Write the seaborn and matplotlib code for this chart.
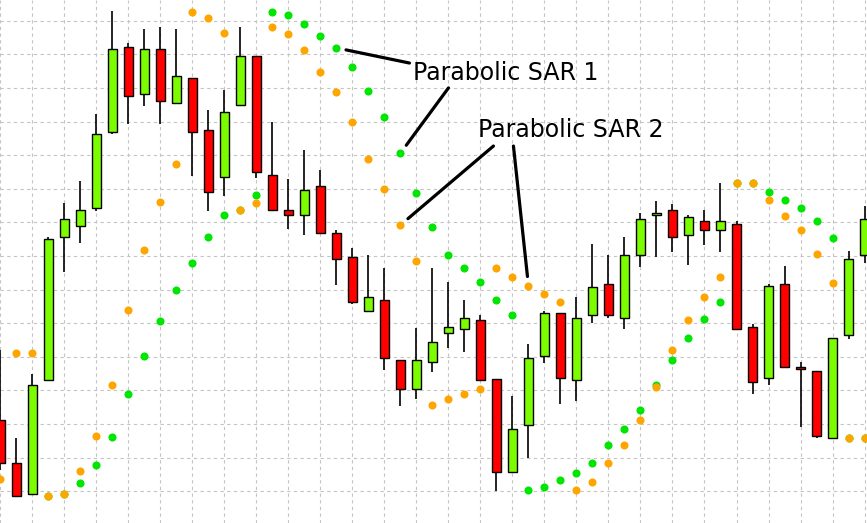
import numpy as np
import pandas as pd
import matplotlib
matplotlib.use('Agg')
import matplotlib.pyplot as plt
import seaborn as sns

nan = np.nan

# candle prices (one candle per bar)
open_ = [1.30212, 1.30084, 1.29991, 1.30331, 1.30756, 1.30789, 1.30843, 1.31069, 1.31322, 1.31182,
         1.31316, 1.31155, 1.31230, 1.31075, 1.30935, 1.31149, 1.31295, 1.30941, 1.30837, 1.30822,
         1.30908, 1.30768, 1.30697, 1.30536, 1.30569, 1.30390, 1.30304, 1.30384, 1.30471, 1.30482,
         1.30509, 1.30334, 1.30057, 1.30197, 1.30402, 1.30530, 1.30331, 1.30524, 1.30616, 1.30515,
         1.30703, 1.30822, 1.30837, 1.30762, 1.30804, 1.30777, 1.30795, 1.30488, 1.30337, 1.30616,
         1.30369, 1.30357, 1.30158, 1.30465, 1.30703]
high = [1.30420, 1.30158, 1.30349, 1.30756, 1.30857, 1.30923, 1.31122, 1.31429, 1.31334, 1.31375,
        1.31381, 1.31375, 1.31230, 1.31134, 1.31194, 1.31381, 1.31295, 1.31099, 1.30929, 1.31015,
        1.30956, 1.30777, 1.30724, 1.30703, 1.30664, 1.30390, 1.30485, 1.30664, 1.30622, 1.30569,
        1.30524, 1.30334, 1.30283, 1.30438, 1.30536, 1.30530, 1.30578, 1.30735, 1.30703, 1.30756,
        1.30828, 1.30863, 1.30854, 1.30822, 1.30837, 1.30917, 1.30804, 1.30497, 1.30616, 1.30670,
        1.30384, 1.30357, 1.30456, 1.30715, 1.30849]
low = [1.30063, 1.29982, 1.29991, 1.30328, 1.30652, 1.30738, 1.30834, 1.31063, 1.31093, 1.31146,
       1.31093, 1.31155, 1.30938, 1.30834, 1.30878, 1.31149, 1.30932, 1.30837, 1.30780, 1.30762,
       1.30768, 1.30613, 1.30557, 1.30536, 1.30360, 1.30253, 1.30274, 1.30354, 1.30426, 1.30414,
       1.30331, 1.30000, 1.30057, 1.30099, 1.30381, 1.30259, 1.30268, 1.30500, 1.30515, 1.30482,
       1.30667, 1.30697, 1.30712, 1.30673, 1.30732, 1.30712, 1.30482, 1.30289, 1.30316, 1.30369,
       1.30191, 1.30158, 1.30158, 1.30453, 1.30679]
close = [1.30084, 1.29985, 1.30316, 1.30750, 1.30810, 1.30837, 1.31063, 1.31316, 1.31176, 1.31316,
         1.31161, 1.31235, 1.31069, 1.30890, 1.31128, 1.31295, 1.30950, 1.30837, 1.30822, 1.30896,
         1.30768, 1.30691, 1.30563, 1.30578, 1.30396, 1.30304, 1.30390, 1.30444, 1.30488, 1.30515,
         1.30331, 1.30057, 1.30185, 1.30396, 1.30530, 1.30337, 1.30515, 1.30607, 1.30524, 1.30703,
         1.30810, 1.30828, 1.30756, 1.30816, 1.30777, 1.30804, 1.30482, 1.30325, 1.30610, 1.30369,
         1.30363, 1.30164, 1.30456, 1.30691, 1.30810]

# Parabolic SAR 1 (green) and SAR 2 (orange)
sar1 = [nan, nan, nan, 1.29985, 1.29991, 1.30024, 1.30078, 1.30161, 1.30289, 1.30402,
        1.30506, 1.30599, 1.30679, 1.30756, 1.30822, 1.30837, 1.30881, 1.31426, 1.31417, 1.31390,
        1.31354, 1.31319, 1.31262, 1.31191, 1.31113, 1.31006, 1.30887, 1.30786, 1.30703, 1.30664,
        1.30622, 1.30569, 1.30524, 1.30003, 1.30012, 1.30033, 1.30054, 1.30084, 1.30137, 1.30185,
        1.30241, 1.30316, 1.30390, 1.30456, 1.30512, 1.30563, 1.30917, 1.30917, 1.30890, 1.30866,
        1.30843, 1.30804, 1.30753, 1.30158, 1.30158]
sar2 = [1.30036, 1.30411, 1.30411, 1.29985, 1.29991, 1.30060, 1.30164, 1.30316, 1.30539, 1.30718,
        1.30860, 1.30974, 1.31426, 1.31408, 1.31363, 1.30837, 1.30857, 1.31381, 1.31360, 1.31313,
        1.31247, 1.31188, 1.31099, 1.30988, 1.30899, 1.30792, 1.30685, 1.30256, 1.30274, 1.30289,
        1.30304, 1.30664, 1.30637, 1.30610, 1.30587, 1.30563, 1.30003, 1.30027, 1.30084, 1.30137,
        1.30212, 1.30310, 1.30420, 1.30509, 1.30578, 1.30637, 1.30917, 1.30917, 1.30866, 1.30819,
        1.30777, 1.30706, 1.30619, 1.30158, 1.30158]

df = pd.DataFrame({'open': open_, 'high': high, 'low': low, 'close': close,
                   'sar1': sar1, 'sar2': sar2})
df['bar'] = np.arange(len(df))
df['up'] = df['close'] >= df['open']

sns.set_style('white')
plt.rcParams['font.family'] = ['DejaVu Sans']

fig = plt.figure(figsize=(8.67, 5.23), dpi=100)
ax = fig.add_axes([0, 0, 1, 1])

# dashed grid, one vertical line every second bar
ax.set_xticks(np.arange(0, 56, 2))
ax.set_yticks(np.round(1.300 + np.arange(15) * 0.001, 4))
ax.grid(True, color='#c4c4c4', linestyle=(0, (3, 3)), linewidth=0.8)
ax.set_axisbelow(True)
ax.tick_params(left=False, bottom=False, labelleft=False, labelbottom=False)
for s in ax.spines.values():
    s.set_visible(False)

# candles
ax.vlines(df['bar'], df['low'], df['high'], color='black', linewidth=1.2, zorder=2)
body_lo = df[['open', 'close']].min(axis=1)
body_h = (df['close'] - df['open']).abs()
colors = np.where(df['up'], '#7cfc00', '#ff0000')
ax.bar(df['bar'], body_h, bottom=body_lo, width=0.62, color=colors,
       edgecolor='black', linewidth=1.0, zorder=3)

# SAR dots
sns.scatterplot(data=df, x='bar', y='sar1', color='#00e600', s=34, linewidth=0,
                ax=ax, zorder=4, legend=False)
sns.scatterplot(data=df, x='bar', y='sar2', color='#ffa500', s=34, linewidth=0,
                ax=ax, zorder=5, legend=False)

ax.set_xlim(-0.03, 54.156)
ax.set_ylim(1.299051, 1.314616)
ax.set_xlabel('')
ax.set_ylabel('')

# labels with pointer lines
lw = 2.3
ax.text(25.8, 1.31224, 'Parabolic SAR 1', fontsize=17, color='black',
        va='baseline', ha='left', zorder=6)
ax.text(29.87, 1.31054, 'Parabolic SAR 2', fontsize=17, color='black',
        va='baseline', ha='left', zorder=6)
line_kw = dict(arrowstyle='-', lw=lw, color='black', shrinkA=0, shrinkB=7)
ax.annotate('', xy=(21, df['sar1'][21]), xytext=(25.56, 1.31274), arrowprops=line_kw)
ax.annotate('', xy=(25, df['sar1'][25]), xytext=(28.0, 1.31200), arrowprops=line_kw)
ax.annotate('', xy=(25, df['sar2'][25]), xytext=(30.81, 1.31027), arrowprops=line_kw)
ax.annotate('', xy=(33, df['sar2'][33]), xytext=(32.06, 1.31027), arrowprops=line_kw)

fig.savefig('out.png', dpi=100, facecolor='white')
